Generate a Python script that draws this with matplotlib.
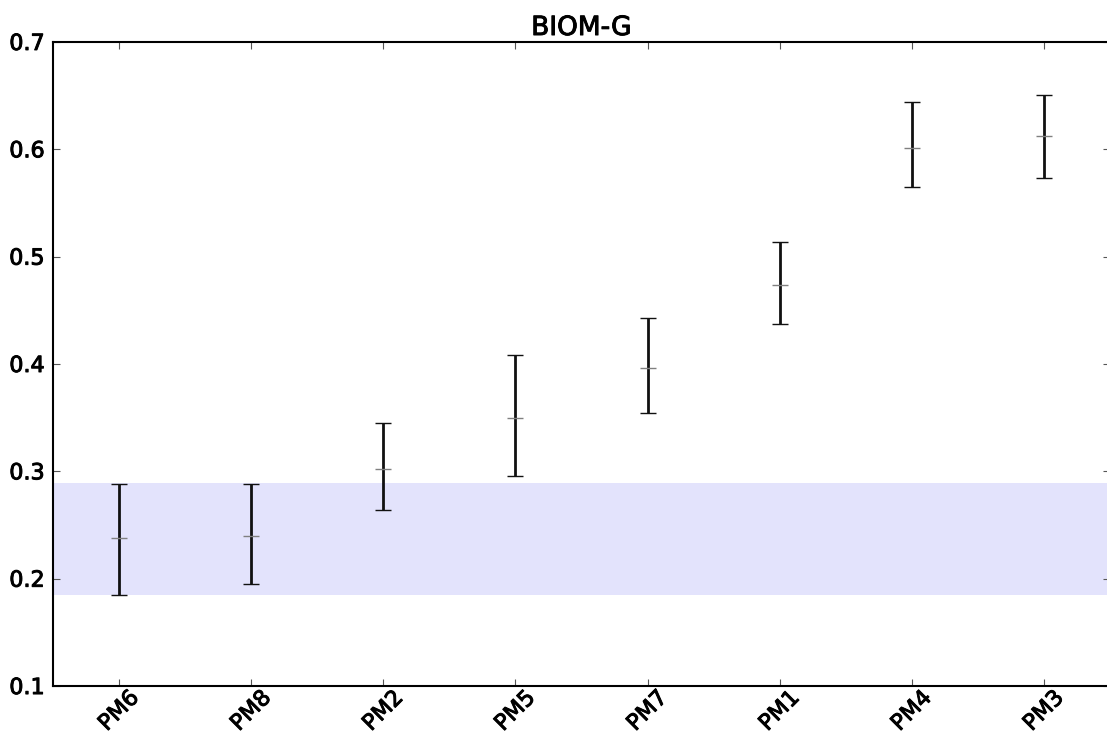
import matplotlib
matplotlib.use('Agg')
import matplotlib.pyplot as plt
import matplotlib.patheffects as pe
import numpy as np

# Model labels in plotted order
models = ['PM6', 'PM8', 'PM2', 'PM5', 'PM7', 'PM1', 'PM4', 'PM3']
# Central estimate and interval bounds per model
centre = [0.2375, 0.240, 0.3025, 0.350, 0.396, 0.474, 0.601, 0.612]
lower = [0.185, 0.195, 0.264, 0.296, 0.354, 0.437, 0.565, 0.573]
upper = [0.2885, 0.2878, 0.345, 0.408, 0.443, 0.514, 0.644, 0.651]
# Reference band
band_lo, band_hi = 0.185, 0.289

fig = plt.figure(figsize=(11.07, 7.36), dpi=100)
ax = fig.add_axes([0.0479, 0.0679, 0.9548, 0.8751])

x = np.arange(len(models))
c = np.array(centre)
yerr = [c - np.array(lower), np.array(upper) - c]

ax.axhspan(band_lo, band_hi, color=(0.89, 0.89, 0.99), lw=0, zorder=0)
_, caps, _ = ax.errorbar(x, c, yerr=yerr, fmt='_', color='#808080', ms=12, mew=1.0,
                         ecolor='#111111', elinewidth=2, capsize=6, capthick=1.0,
                         zorder=3)
for cap in caps:
    cap.set_color('#555555')

# slightly heavier than regular weight
heavy = [pe.withStroke(linewidth=0.7, foreground='black')]

ax.set_xlim(-0.5, 7.5)
ax.set_ylim(0.1, 0.7)
ax.set_xticks(x)
ax.set_xticklabels(models, rotation=45, fontsize=16)
ticks = np.arange(0.1, 0.71, 0.1)
ax.set_yticks(ticks)
ax.set_yticklabels([f'{v:.1f}' for v in ticks], fontsize=16)
for lab in ax.get_xticklabels() + ax.get_yticklabels():
    lab.set_path_effects(heavy)
ax.tick_params(direction='in', top=True, right=True, length=5, width=0.8, color='#555555')
ax.tick_params(axis='x', pad=1)
ax.tick_params(axis='y', pad=6)
for s in ax.spines.values():
    s.set_linewidth(1.5)
ax.set_title('BIOM-G', fontsize=19, pad=5, path_effects=heavy)

plt.savefig('out.png', dpi=100)
plt.close()
